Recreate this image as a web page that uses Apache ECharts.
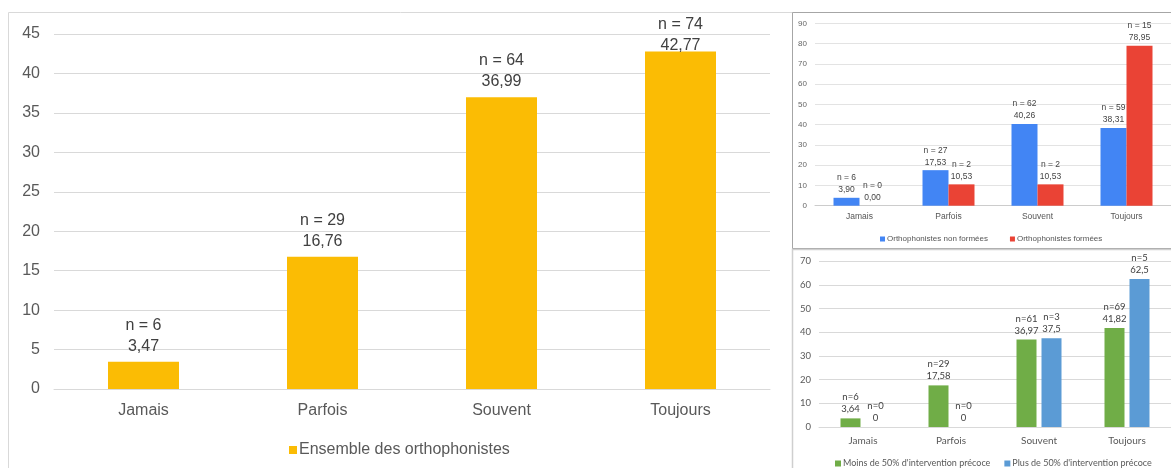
<!DOCTYPE html>
<html>
<head>
<meta charset="utf-8">
<script src="https://cdn.jsdelivr.net/npm/echarts@6/dist/echarts.min.js"></script>
<style>
html,body{margin:0;padding:0;background:#fff;overflow:hidden;}
#c{width:1171px;height:468px;}
</style>
</head>
<body>
<div id="c"></div>
<script>
var categories = ['Jamais', 'Parfois', 'Souvent', 'Toujours'];
// Main chart: all speech therapists
var allPct = [3.47, 16.76, 36.99, 42.77];
var allN = [6, 29, 64, 74];
// Top-right chart
var nonFormPct = [3.90, 17.53, 40.26, 38.31];
var nonFormN = [6, 27, 62, 59];
var formPct = [0.00, 10.53, 10.53, 78.95];
var formN = [0, 2, 2, 15];
// Bottom-right chart
var moinsPct = [3.64, 17.58, 36.97, 41.82];
var moinsN = [6, 29, 61, 69];
var plusPct = [0, 0, 37.5, 62.5];
var plusN = [0, 0, 3, 5];
// Axis ticks
var mainTicks = {min: 0, max: 45, interval: 5};
var trTicks = {min: 0, max: 90, interval: 10};
var brTicks = {min: 0, max: 70, interval: 10};

function fix2(v) { return v.toFixed(2).replace('.', ','); }
function raw(v) { return String(v).replace('.', ','); }

var chart = echarts.init(document.getElementById('c'), null, {renderer: 'canvas'});

var F1 = '"Liberation Sans", Arial, sans-serif';
var F3 = 'Lato, "Liberation Sans", sans-serif';

var option = {
  animation: false,
  graphic: [
    {type: 'rect', silent: true, z: -10, shape: {x: 8.5, y: 12.5, width: 784, height: 480}, style: {fill: 'none', stroke: '#d9d9d9', lineWidth: 1}},
    {type: 'rect', silent: true, z: -10, shape: {x: 792.5, y: 12.5, width: 400, height: 236}, style: {fill: 'none', stroke: '#a6a6a6', lineWidth: 1}},
    {type: 'rect', silent: true, z: -10, shape: {x: 792.5, y: 249.5, width: 400, height: 240}, style: {fill: 'none', stroke: '#cfcfcf', lineWidth: 1.5}}
  ],
  grid: [
    {left: 54, right: 401, top: 34, bottom: 79},
    {left: 815, right: -6.5, top: 23.3, bottom: 262.3},
    {left: 819, right: -4, top: 261.3, bottom: 41}
  ],
  legend: [
    {
      data: ['Ensemble des orthophonistes'], left: 284, top: 437,
      itemWidth: 8, itemHeight: 8, itemGap: 10, icon: 'rect',
      textStyle: {fontFamily: F1, fontSize: 16, color: '#595959', padding: [0, 0, 0, -3]}
    },
    {
      data: ['Orthophonistes non formées', 'Orthophonistes formées'], left: 875, top: 230,
      itemWidth: 5, itemHeight: 5, itemGap: 22, icon: 'rect',
      textStyle: {fontFamily: F1, fontSize: 8, color: '#555', padding: [0, 0, 0, -3]}
    },
    {
      data: ["Moins de 50% d'intervention précoce", "Plus de 50% d'intervention précoce"], left: 830, top: 454,
      itemWidth: 6, itemHeight: 6, itemGap: 14, icon: 'rect',
      textStyle: {fontFamily: F3, fontSize: 9, color: '#595959', padding: [0, 0, 0, -3]}
    }
  ],
  xAxis: [
    {
      gridIndex: 0, type: 'category', data: categories,
      axisLine: {lineStyle: {color: '#d9d9d9'}}, axisTick: {show: false},
      axisLabel: {fontFamily: F1, fontSize: 16, color: '#595959', margin: 14}
    },
    {
      gridIndex: 1, type: 'category', data: categories,
      axisLine: {lineStyle: {color: '#cccccc'}}, axisTick: {show: false},
      axisLabel: {fontFamily: F1, fontSize: 8.5, color: '#555', margin: 6}
    },
    {
      gridIndex: 2, type: 'category', data: categories,
      axisLine: {lineStyle: {color: '#d9d9d9'}}, axisTick: {show: false},
      axisLabel: {fontFamily: F3, fontSize: 10, color: '#595959', margin: 9}
    }
  ],
  yAxis: [
    {
      gridIndex: 0, type: 'value', min: mainTicks.min, max: mainTicks.max, interval: mainTicks.interval,
      axisLine: {show: false}, axisTick: {show: false},
      splitLine: {lineStyle: {color: '#d9d9d9'}},
      axisLabel: {fontFamily: F1, fontSize: 16, color: '#595959', margin: 14}
    },
    {
      gridIndex: 1, type: 'value', min: trTicks.min, max: trTicks.max, interval: trTicks.interval,
      axisLine: {show: false}, axisTick: {show: false},
      splitLine: {lineStyle: {color: '#e3e3e3'}},
      axisLabel: {fontFamily: F1, fontSize: 8, color: '#666', margin: 8}
    },
    {
      gridIndex: 2, type: 'value', min: brTicks.min, max: brTicks.max, interval: brTicks.interval,
      axisLine: {show: false}, axisTick: {show: false},
      splitLine: {lineStyle: {color: '#d9d9d9'}},
      axisLabel: {fontFamily: F3, fontSize: 9.5, color: '#595959', margin: 8}
    }
  ],
  series: [
    {
      name: 'Ensemble des orthophonistes', type: 'bar', xAxisIndex: 0, yAxisIndex: 0,
      barWidth: 71, itemStyle: {color: '#FBBC04'},
      data: allPct.map(function (v, i) {
        var d = {value: v, n: allN[i]};
        if (i === 3) d.label = {offset: [0, 10]};
        return d;
      }),
      label: {
        show: true, position: 'top', distance: 5,
        fontFamily: F1, fontSize: 16, color: '#404040', lineHeight: 21,
        formatter: function (p) { return 'n = ' + p.data.n + '\n' + fix2(p.value); }
      }
    },
    {
      name: 'Orthophonistes non formées', type: 'bar', xAxisIndex: 1, yAxisIndex: 1,
      barWidth: 26, barGap: '0%', itemStyle: {color: '#4285F4'},
      data: nonFormPct.map(function (v, i) { return {value: v, n: nonFormN[i]}; }),
      label: {
        show: true, position: 'top', distance: 2,
        fontFamily: F1, fontSize: 8.5, color: '#444', lineHeight: 12,
        formatter: function (p) { return 'n = ' + p.data.n + '\n' + fix2(p.value); }
      }
    },
    {
      name: 'Orthophonistes formées', type: 'bar', xAxisIndex: 1, yAxisIndex: 1,
      barWidth: 26, barGap: '0%', itemStyle: {color: '#EA4335'},
      data: formPct.map(function (v, i) { return {value: v, n: formN[i]}; }),
      label: {
        show: true, position: 'top', distance: 2,
        fontFamily: F1, fontSize: 8.5, color: '#444', lineHeight: 12,
        formatter: function (p) { return 'n = ' + p.data.n + '\n' + fix2(p.value); }
      }
    },
    {
      name: "Moins de 50% d'intervention précoce", type: 'bar', xAxisIndex: 2, yAxisIndex: 2,
      barWidth: 20, barGap: '25%', itemStyle: {color: '#70AD47'},
      data: moinsPct.map(function (v, i) { return {value: v, n: moinsN[i]}; }),
      label: {
        show: true, position: 'top', distance: 3,
        fontFamily: F3, fontSize: 9.5, color: '#404040', lineHeight: 12,
        formatter: function (p) { return 'n=' + p.data.n + '\n' + raw(p.value); }
      }
    },
    {
      name: "Plus de 50% d'intervention précoce", type: 'bar', xAxisIndex: 2, yAxisIndex: 2,
      barWidth: 20, barGap: '25%', itemStyle: {color: '#5B9BD5'},
      data: plusPct.map(function (v, i) { return {value: v, n: plusN[i]}; }),
      label: {
        show: true, position: 'top', distance: 3,
        fontFamily: F3, fontSize: 9.5, color: '#404040', lineHeight: 12,
        formatter: function (p) { return 'n=' + p.data.n + '\n' + raw(p.value); }
      }
    }
  ]
};
chart.setOption(option);
</script>
</body>
</html>
